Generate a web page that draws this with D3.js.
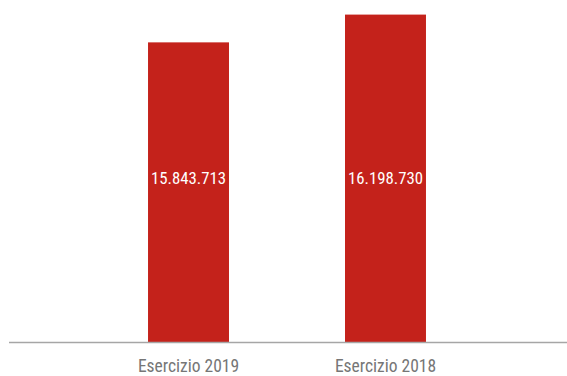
<!DOCTYPE html>
<html>
<head>
<meta charset="utf-8">
<script src="https://cdn.jsdelivr.net/npm/d3@7"></script>
<style>
  html, body { margin: 0; padding: 0; background: #fff; }
  svg { display: block; }
  text { font-family: "Liberation Sans Narrow", "Roboto Condensed", "Arial Narrow", sans-serif; }
</style>
</head>
<body>
<svg id="chart" width="567" height="376"></svg>
<script>
// Esercizi a confronto
const categories = ["Esercizio 2019", "Esercizio 2018"];
const values = [15843713, 16198730];
const valueLabels = ["15.843.713", "16.198.730"];

const width = 567, height = 376;
const svg = d3.select("#chart");

const x = d3.scaleBand()
  .domain(categories)
  .range([32, 542])
  .padding(0.589);

const y = d3.scaleLinear()
  .domain([12000000, 16200000])
  .range([343, 14.5]);

const baseY = y(12000000);

// barre
svg.selectAll("rect.bar")
  .data(values)
  .join("rect")
  .attr("class", "bar")
  .attr("x", (d, i) => x(categories[i]))
  .attr("width", x.bandwidth())
  .attr("y", d => y(d))
  .attr("height", d => baseY - y(d))
  .attr("fill", "#c4221b");

// asse orizzontale
svg.append("line")
  .attr("x1", 9).attr("x2", width)
  .attr("y1", 342.5).attr("y2", 342.5)
  .attr("stroke", "#a6a6a6")
  .attr("stroke-width", 1.5);

// etichette categoria
svg.selectAll("text.cat")
  .data(categories)
  .join("text")
  .attr("class", "cat")
  .attr("x", d => x(d) + x.bandwidth() / 2)
  .attr("y", 371.5)
  .attr("text-anchor", "middle")
  .attr("font-size", 17.5)
  .attr("fill", "#767676")
  .text(d => d);

// etichette valore
svg.selectAll("text.val")
  .data(valueLabels)
  .join("text")
  .attr("class", "val")
  .attr("x", (d, i) => x(categories[i]) + x.bandwidth() / 2)
  .attr("y", 184)
  .attr("text-anchor", "middle")
  .attr("font-size", 16.8)
  .attr("fill", "#ffffff")
  .text(d => d);
</script>
</body>
</html>
